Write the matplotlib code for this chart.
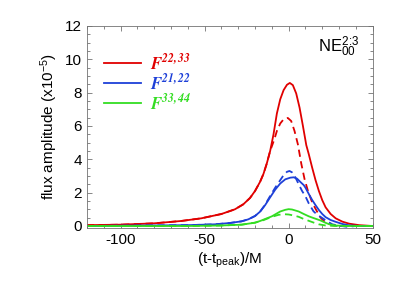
import matplotlib
matplotlib.use("Agg")
import matplotlib.pyplot as plt
from matplotlib.font_manager import FontProperties

plt.rcParams["font.family"] = ["Liberation Sans", "DejaVu Sans"]
plt.rcParams["axes.unicode_minus"] = False

RED = "#e00000"
BLUE = "#1e40d8"
GREEN = "#33dd22"

# ── flux amplitude (x1e-5) vs (t - t_peak)/M ───────────────────────────────
t_red = [-120, -100, -80, -64, -52, -40, -32, -27, -23, -20, -17, -15, -13, -11,
         -9, -7, -5, -3, -1, 0.7, 2.5, 4.5, 6.5, 8.5, 10.5, 12, 14, 16, 18, 20,
         22, 25, 28, 32, 36, 42, 50]
f_red = [0.05, 0.08, 0.16, 0.30, 0.46, 0.72, 1.0, 1.3, 1.68, 2.1, 2.65, 3.12, 3.75,
         4.5, 5.5, 6.75, 7.6, 8.15, 8.47, 8.58, 8.45, 7.95, 7.1, 6.0, 4.85, 4.3,
         3.5, 2.75, 2.1, 1.55, 1.12, 0.72, 0.46, 0.26, 0.14, 0.05, 0.0]

t_red_d = [-120, -100, -80, -64, -52, -40, -32, -27, -23, -20, -17, -15, -13, -11,
           -8.5, -7, -5, -3, -0.5, 1.5, 3.5, 5.5, 7.5, 9.5, 11.5, 13.5, 15, 17, 19,
           22, 26, 30, 40, 50]
f_red_d = [0.05, 0.08, 0.16, 0.30, 0.46, 0.72, 1.0, 1.3, 1.68, 2.1, 2.65, 3.12, 3.75,
           4.5, 5.2, 5.7, 6.15, 6.4, 6.48, 6.3, 5.7, 4.9, 3.75, 2.8, 2.1, 1.55,
           1.22, 0.85, 0.5, 0.2, 0.05, 0.0, 0.0, 0.0]

t_blue = [-120, -60, -44, -35, -28, -24, -20, -17, -14, -11, -8, -5, -2, 1, 3, 5,
          7, 9, 10, 12, 14, 16, 18, 20, 22, 25, 28, 32, 36, 42, 50]
f_blue = [0.0, 0.05, 0.1, 0.18, 0.28, 0.4, 0.6, 0.86, 1.25, 1.72, 2.18, 2.55, 2.8,
          2.9, 2.92, 2.84, 2.64, 2.45, 2.3, 1.92, 1.56, 1.25, 0.96, 0.72, 0.53, 0.36,
          0.25, 0.12, 0.04, 0.0, 0.0]

t_blue_d = [-120, -60, -44, -35, -28, -24, -20, -17, -14, -11, -8, -5, -3, -1, 0.5,
            2, 4, 6, 8, 10, 12, 14.8, 17, 20, 23, 26, 30, 35, 40, 50]
f_blue_d = [0.0, 0.05, 0.1, 0.18, 0.28, 0.4, 0.6, 0.86, 1.28, 1.8, 2.3, 2.75, 3.05,
            3.25, 3.3, 3.22, 2.92, 2.5, 2.1, 1.78, 1.35, 0.88, 0.68, 0.48, 0.28, 0.1,
            0.02, -0.05, 0.0, 0.0]

t_green = [-120, -60, -40, -28, -20, -17, -10, -5, -2, 0, 2, 6, 9, 12, 15, 19, 22,
           24, 28, 35, 50]
f_green = [0.0, 0.0, 0.03, 0.08, 0.2, 0.3, 0.58, 0.87, 0.97, 1.01, 0.99, 0.87, 0.72,
           0.58, 0.47, 0.33, 0.19, 0.11, 0.03, 0.0, 0.0]

t_green_d = [-120, -60, -40, -28, -20, -15, -10, -6, -3, 0, 3, 6, 9, 12, 15, 18, 22,
             28, 50]
f_green_d = [0.0, 0.0, 0.03, 0.08, 0.2, 0.35, 0.55, 0.67, 0.71, 0.69, 0.63, 0.55,
             0.42, 0.31, 0.2, 0.1, 0.03, 0.0, 0.0]

labels = [r"$\mathbfit{F^{22,33}}$", r"$\mathbfit{F^{21,22}}$", r"$\mathbfit{F^{33,44}}$"]

DASH = (0, (4, 2.5))

fig = plt.figure(figsize=(3.99, 2.85), dpi=100)
ax = fig.add_axes([0.218, 0.2, 0.716, 0.709])

h1, = ax.plot(t_red, f_red, color=RED, lw=1.3)
ax.plot(t_red_d, f_red_d, color=RED, lw=1.3, ls=DASH)
h2, = ax.plot(t_blue, f_blue, color=BLUE, lw=1.3)
ax.plot(t_blue_d, f_blue_d, color=BLUE, lw=1.3, ls=DASH)
h3, = ax.plot(t_green, f_green, color=GREEN, lw=1.3)
ax.plot(t_green_d, f_green_d, color=GREEN, lw=1.3, ls=DASH)

ax.set_xlim(-120, 50)
ax.set_ylim(-0.12, 12)
ax.set_xticks([-100, -50, 0, 50])
ax.set_xticks(range(-120, 51, 10), minor=True)
ax.set_yticks(range(0, 13, 2))
ax.set_yticks([v * 0.5 for v in range(0, 25)], minor=True)
ax.tick_params(which="both", direction="in", top=True, right=True,
               color="0.45", width=0.6, labelsize=11, labelcolor="black")
ax.tick_params(which="major", length=3.6)
ax.tick_params(which="minor", length=2.0)
for s in ax.spines.values():
    s.set_color("0.45")
    s.set_linewidth(0.6)

ax.set_xlabel(r"(t-t$\mathregular{_{peak}}$)/M", fontsize=11, labelpad=3)
ax.set_ylabel(r"flux amplitude (x10$\mathregular{^{-5}}$)", fontsize=11, labelpad=4)

ax.text(0.955, 0.895, r"NE$\mathregular{^{2\!:\!3}_{00}}$", transform=ax.transAxes,
        ha="right", va="center", fontsize=12)

leg = ax.legend([h1, h2, h3], labels, loc="upper left", bbox_to_anchor=(0.06, 0.87),
                frameon=False, borderpad=0, borderaxespad=0, handlelength=2.2,
                handletextpad=0.55, labelspacing=0.0,
                prop=FontProperties(size=12, math_fontfamily="stix"),
                labelcolor="linecolor")

fig.savefig("out.png", dpi=100)
